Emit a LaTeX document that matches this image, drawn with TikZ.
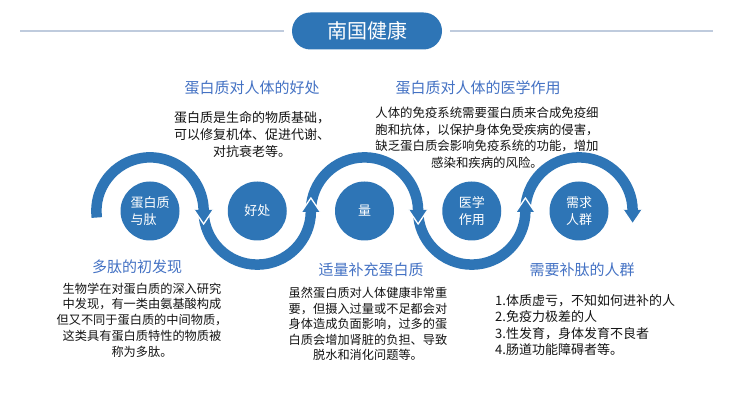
\documentclass[tikz,border=0pt]{standalone}
\usepackage{fontspec}
\newfontfamily\cjk{Noto Sans CJK SC}
\usetikzlibrary{calc}
\definecolor{mainblue}{HTML}{2E75B6}
\definecolor{headblue}{HTML}{4472C4}
\definecolor{rulegray}{HTML}{BFCBDD}
\definecolor{bodytext}{HTML}{141414}
\begin{document}
\begin{tikzpicture}[x=1pt,y=1pt,
  band/.style={draw=mainblue, line width=10.5pt},
  disc/.style={circle, fill=mainblue, minimum size=59pt, inner sep=0pt, text=white, font=\cjk\fontsize{13}{17}\selectfont},
  head/.style={text=headblue, font=\cjk\fontsize{15}{18}\selectfont, inner sep=0pt},
  body/.style={text=bodytext, align=center, inner sep=0pt},
  vnotch/.style={draw=white, line width=1.3pt}
]
\useasboundingbox (0,0) rectangle (730,411);
\fill[white] (0,0) rectangle (730,411);

% title
\node[fill=mainblue, rounded corners=18.5pt, minimum width=150pt, minimum height=37pt,
      text=white, font=\cjk\fontsize{20}{24}\selectfont, inner sep=0pt, outer sep=8pt] (title) at (367,380) {南国健康};
\coordinate (ll) at (20,380);
\coordinate (rr) at (713,380);
\draw[rulegray, line width=1.5pt] (ll) -- (title.west);
\draw[rulegray, line width=1.5pt] (title.east) -- (rr);

% circles
\node[disc, align=left] (c1) at (150,200) {蛋白质\\与肽};
\node[disc] (c2) at (257.25,200) {好处};
\node[disc] (c3) at (364.5,200) {量};
\node[disc, align=center] (c4) at (471.75,200) {医学\\作用};
\node[disc, align=center] (c5) at (579,200) {需求\\人群};

% wave arcs
\def\R{53.625}
\draw[band] (c1.center) ++(187:\R) arc[start angle=187, end angle=0, radius=\R] coordinate (j1);
\draw[band] (c2.center) ++(180:\R) arc[start angle=180, end angle=360, radius=\R] coordinate (j2);
\draw[band] (c3.center) ++(180:\R) arc[start angle=180, end angle=0, radius=\R] coordinate (j3);
\draw[band] (c4.center) ++(180:\R) arc[start angle=180, end angle=360, radius=\R] coordinate (j4);
\draw[band] (c5.center) ++(180:\R) arc[start angle=180, end angle=0, radius=\R] coordinate (j5);

% arrowheads
\foreach \j/\s in {j1/1, j2/-1, j3/1, j4/-1, j5/1} {
  \fill[mainblue] ($(\j)+(-9.5,\s)$) -- ($(\j)+(9.5,\s)$) -- ($(\j)+(0,-13*\s)$) -- cycle;
  \draw[vnotch] ($(\j)+(-9.5,\s)$) -- ($(\j)+(0,-13*\s)$) -- ($(\j)+(9.5,\s)$);
}

% top texts
\node[head] (h1) at (252,323) {蛋白质对人体的好处};
\node[body, font=\cjk\fontsize{13}{17}\selectfont] (b1) at (252,276)
  {蛋白质是生命的物质基础，\\可以修复机体、促进代谢、\\对抗衰老等。};
\node[head] (h2) at (478,323) {蛋白质对人体的医学作用};
\node[body, font=\cjk\fontsize{12.4}{16.5}\selectfont] (b2) at (487,273)
  {人体的免疫系统需要蛋白质来合成免疫细\\胞和抗体，以保护身体免受疾病的侵害，\\缺乏蛋白质会影响免疫系统的功能，增加\\感染和疾病的风险。};

% bottom texts
\node[head] (h3) at (137,144) {多肽的初发现};
\node[body, font=\cjk\fontsize{12.2}{15.7}\selectfont] (b3) at (142,91)
  {生物学在对蛋白质的深入研究\\中发现，有一类由氨基酸构成\\但又不同于蛋白质的中间物质，\\这类具有蛋白质特性的物质被\\称为多肽。};
\node[head] (h4) at (371,141) {适量补充蛋白质};
\node[body, font=\cjk\fontsize{12.2}{15.5}\selectfont] (b4) at (368,87)
  {虽然蛋白质对人体健康非常重\\要，但摄入过量或不足都会对\\身体造成负面影响，过多的蛋\\白质会增加肾脏的负担、导致\\脱水和消化问题等。};
\node[head] (h5) at (582,141) {需要补肽的人群};
\node[body, align=left, anchor=west, font=\cjk\fontsize{13}{16.5}\selectfont] (b5) at (495,86)
  {1.体质虚亏，不知如何进补的人\\2.免疫力极差的人\\3.性发育，身体发育不良者\\4.肠道功能障碍者等。};
\end{tikzpicture}
\end{document}
